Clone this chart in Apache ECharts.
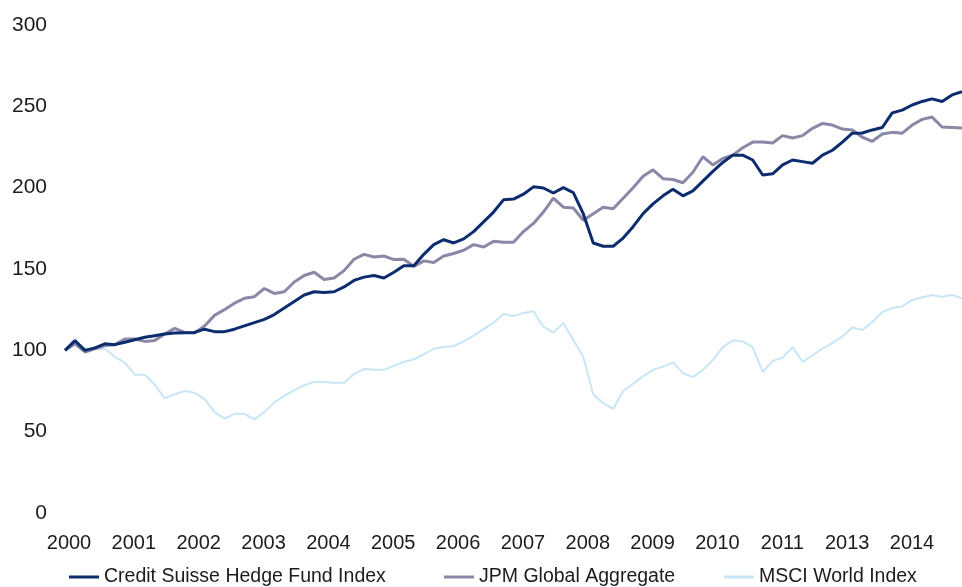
<!DOCTYPE html>
<html>
<head>
<meta charset="utf-8">
<script src="https://cdn.jsdelivr.net/npm/echarts@6/dist/echarts.min.js"></script>
<style>
html,body{margin:0;padding:0;background:#fff;}
#chart{width:962px;height:587px;}
</style>
</head>
<body>
<div id="chart"></div>
<script>
// Year tick labels as printed on the original chart (2012 is absent there)
const yearLabels = ['2000','2001','2002','2003','2004','2005','2006','2007','2008','2009','2010','2011','2013','2014'];

// Bi-monthly observation dates, Jan 2000 .. Jan 2015
const categories = [];
for (let y = 2000; y <= 2015; y++) {
  for (let m = 1; m <= 12; m += 2) {
    if (y === 2015 && m > 1) break;
    categories.push(y + '-' + String(m).padStart(2, '0'));
  }
}

const seriesNames = ['Credit Suisse Hedge Fund Index', 'JPM Global Aggregate', 'MSCI World Index'];

const creditSuisse = [
  100,106,100,101.5,104,103.5,105,106.5,108,109,
  110,110.6,110.8,111,113,111.5,111.5,113,115,117,
  119,122,126,130,134,136,135.5,136,139,143,
  145,146,144.5,148,152,152,159,165,168,166,
  168.5,173,179,185,192.5,193,196,200.5,199.8,196.7,
  200,197,184,166,164,164,169,176,184,190,
  195,199,195,198,204,210,215.5,220,220,217,
  207.8,208.5,214,217,216,215,220,223,228,233.5,
  233.6,235.5,237,246,247.7,250.8,253,254.6,253,257,
  259
];

const jpmGlobal = [
  100,104,99,101,103,103.5,107,107,105.5,106,
  110,113.5,111,110.6,115,121.5,125,129,132,133,
  138,135,136,142,146,148,143.5,144.5,149,156,
  159,157.4,158,155.8,156,151.5,155,154,158,159.5,
  161.5,165,163.5,167,166.5,166.5,173,178,185,193.6,
  188,187.5,180,184,188,187,193.5,200,207,211,
  205.5,205,203,209.5,219,214,218,220,224.5,228,
  228,227.5,232,230.5,232,236.5,239.5,238.5,236,235.5,
  231,228.5,233,234,233.5,238.5,242,243.4,237.3,237,
  236.7
];

const msciWorld = [
  100,104,101,101,101,96,92.5,85,85,79,
  70.5,73,75,74,70,62,58,61,61,57.5,
  62,68,72,75.5,78.5,80.5,80.5,80,80,85.5,
  88.5,88,88,90.5,93,94.5,97.5,101,102,102.5,
  105.5,109,113,117,122.5,121,123,124,114.5,111,
  116.8,106.5,96,73,67.5,64,75,79.5,84,88,
  90,92.5,86,83.5,88,94,102,106,105.5,102,
  86.7,93.5,95.5,102,92.8,97,101,104.5,108.5,114,
  112.5,117.4,123.5,126,127,131,132.5,134,133,134,
  132
];

const colors = ['#0c2c6e', '#8a88a6', '#c8e6f6'];
const font = '"Liberation Sans", Arial, Helvetica, sans-serif';
const textColor = '#1c1c1c';

const chart = echarts.init(document.getElementById('chart'), null, {renderer: 'canvas'});

function legendFor(name, left, color) {
  return {
    data: [{name: name, itemStyle: {color: color}}],
    left: left, top: 567,
    icon: 'rect', itemWidth: 30, itemHeight: 3,
    padding: 0,
    textStyle: {fontFamily: font, fontSize: 19.5, color: textColor, padding: [0,0,0,0]},
    selectedMode: false
  };
}

chart.setOption({
  animation: false,
  backgroundColor: '#ffffff',
  grid: [
    {left: 65, right: 0, top: 25, bottom: 74, containLabel: false},
    {left: 69, right: 50, top: 25, bottom: 74, containLabel: false}
  ],
  xAxis: [
    {
      gridIndex: 0, type: 'category', data: categories, boundaryGap: false,
      axisLine: {show: false}, axisTick: {show: false}, axisLabel: {show: false}, splitLine: {show: false}
    },
    {
      gridIndex: 1, type: 'category', data: yearLabels, boundaryGap: false,
      axisLine: {show: false}, axisTick: {show: false}, splitLine: {show: false},
      axisLabel: {show: true, interval: 0, margin: 20, fontFamily: font, fontSize: 20, color: textColor}
    }
  ],
  yAxis: [
    {
      gridIndex: 0, type: 'value', min: 0, max: 300, interval: 50,
      axisLine: {show: false}, axisTick: {show: false}, splitLine: {show: false},
      axisLabel: {margin: 18, fontFamily: font, fontSize: 21, color: textColor}
    },
    {gridIndex: 1, type: 'value', min: 0, max: 300, show: false, splitLine: {show: false}}
  ],
  legend: [
    legendFor(seriesNames[0], 69, colors[0]),
    legendFor(seriesNames[1], 444, colors[1]),
    legendFor(seriesNames[2], 724, colors[2])
  ],
  series: [
    {
      name: seriesNames[2], type: 'line', data: msciWorld, xAxisIndex: 0, yAxisIndex: 0,
      showSymbol: false, symbol: 'none', lineStyle: {width: 2, color: colors[2]}, itemStyle: {color: colors[2]}
    },
    {
      name: seriesNames[1], type: 'line', data: jpmGlobal, xAxisIndex: 0, yAxisIndex: 0,
      showSymbol: false, symbol: 'none', lineStyle: {width: 3, color: colors[1]}, itemStyle: {color: colors[1]}
    },
    {
      name: seriesNames[0], type: 'line', data: creditSuisse, xAxisIndex: 0, yAxisIndex: 0,
      showSymbol: false, symbol: 'none', lineStyle: {width: 3, color: colors[0]}, itemStyle: {color: colors[0]}
    }
  ]
});
</script>
</body>
</html>
